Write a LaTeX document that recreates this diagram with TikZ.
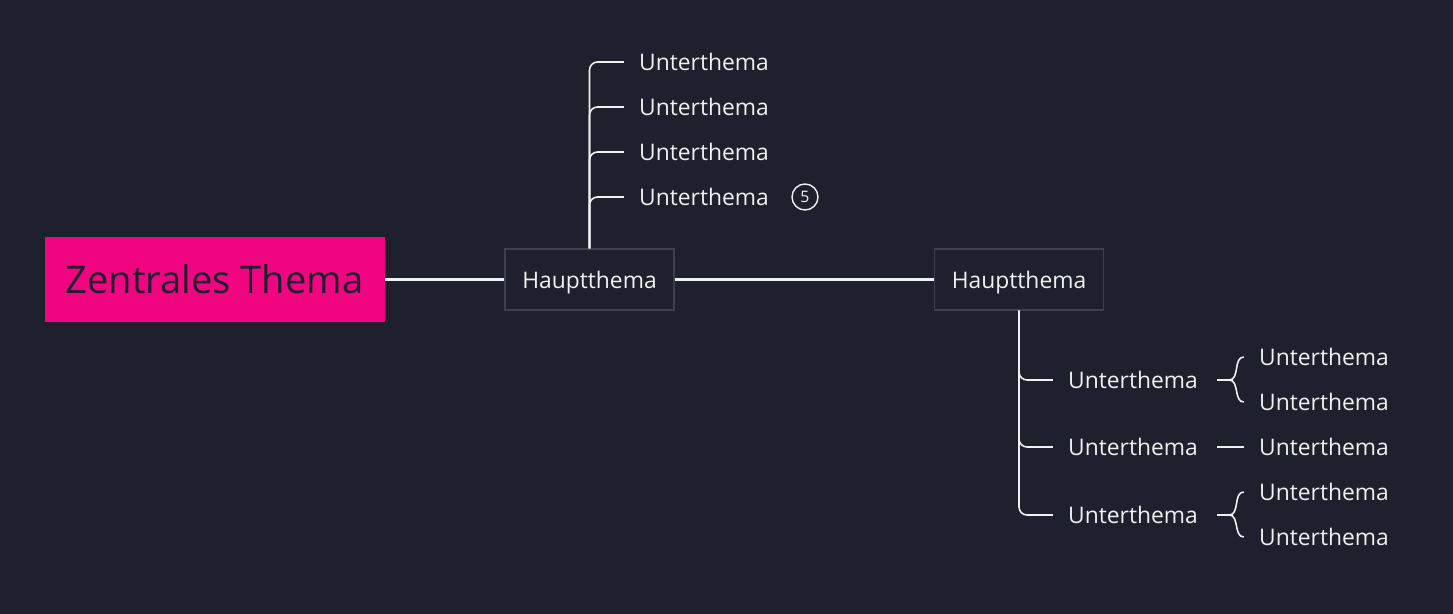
\documentclass[tikz,border=0pt]{standalone}
\usepackage{fontspec}
\setmainfont{Open Sans}
\definecolor{bgdark}{RGB}{30,32,45}
\definecolor{hotpink}{RGB}{240,4,127}
\definecolor{boxline}{RGB}{62,64,76}
\definecolor{lightline}{RGB}{240,240,240}
\usetikzlibrary{positioning}

\begin{document}
\begin{tikzpicture}[x=0.02cm,y=-0.02cm,
  central/.style={fill=hotpink,text=bgdark,minimum width=340*0.02cm,
                  minimum height=85*0.02cm,font=\fontsize{21.7}{26}\selectfont},
  mainbox/.style={draw=boxline,fill=bgdark,text=lightline,line width=0.8pt,
                  minimum width=169*0.02cm,minimum height=61*0.02cm,text depth=0pt,
                  font=\fontsize{13}{15}\selectfont},
  sub/.style={text=lightline,inner xsep=0.3cm,inner ysep=2pt,
              font=\fontsize{13}{15}\selectfont},
  trunk/.style={draw=lightline,line width=1.7pt},
  twig/.style={draw=lightline,line width=0.9pt,rounded corners=0.16cm}]
  \fill[bgdark] (0,0) rectangle (1453,614);

  \node[central] (z) at (214.5,279.5) {Zentrales Thema};
  \node[mainbox] (h1) at (589.5,279.5) {Hauptthema};
  \node[mainbox] (h2) at (1019,279.5) {Hauptthema};
  \draw[trunk] (z) -- (h1);
  \draw[trunk] (h1) -- (h2);

  % upper branch
  \node[sub] (a1) at (704,62) {Unterthema};
  \node[sub] (a2) at (704,107) {Unterthema};
  \node[sub] (a3) at (704,152) {Unterthema};
  \node[sub] (a4) at (704,197) {Unterthema};
  \node[circle,draw=lightline,line width=0.8pt,text=lightline,minimum size=26*0.02cm,
        inner sep=0pt,font=\fontsize{9}{10}\selectfont] (n5) at (805,197) {5};
  \foreach \i in {1,...,4}
    \draw[twig] (h1.north) |- (a\i.west);

  % lower branch
  \node[sub] (b1) at (1133,380) {Unterthema};
  \node[sub] (b2) at (1133,447) {Unterthema};
  \node[sub] (b3) at (1133,515) {Unterthema};
  \foreach \i in {1,2,3}
    \draw[twig] (h2.south) |- (b\i.west);

  \node[sub] (c1) at (1324,357) {Unterthema};
  \node[sub] (c2) at (1324,402) {Unterthema};
  \node[sub] (c3) at (1324,447) {Unterthema};
  \node[sub] (c4) at (1324,492) {Unterthema};
  \node[sub] (c5) at (1324,537) {Unterthema};

  \draw[twig] (b1.east) ++(4,0) -- ++(12,0) coordinate (k1);
  \draw[twig] (k1) to[out=0,in=180] (c1.west);
  \draw[twig] (k1) to[out=0,in=180] (c2.west);
  \draw[twig] (b2.east) ++(4,0) -- (c3.west);
  \draw[twig] (b3.east) ++(4,0) -- ++(12,0) coordinate (k3);
  \draw[twig] (k3) to[out=0,in=180] (c4.west);
  \draw[twig] (k3) to[out=0,in=180] (c5.west);
\end{tikzpicture}
\end{document}
